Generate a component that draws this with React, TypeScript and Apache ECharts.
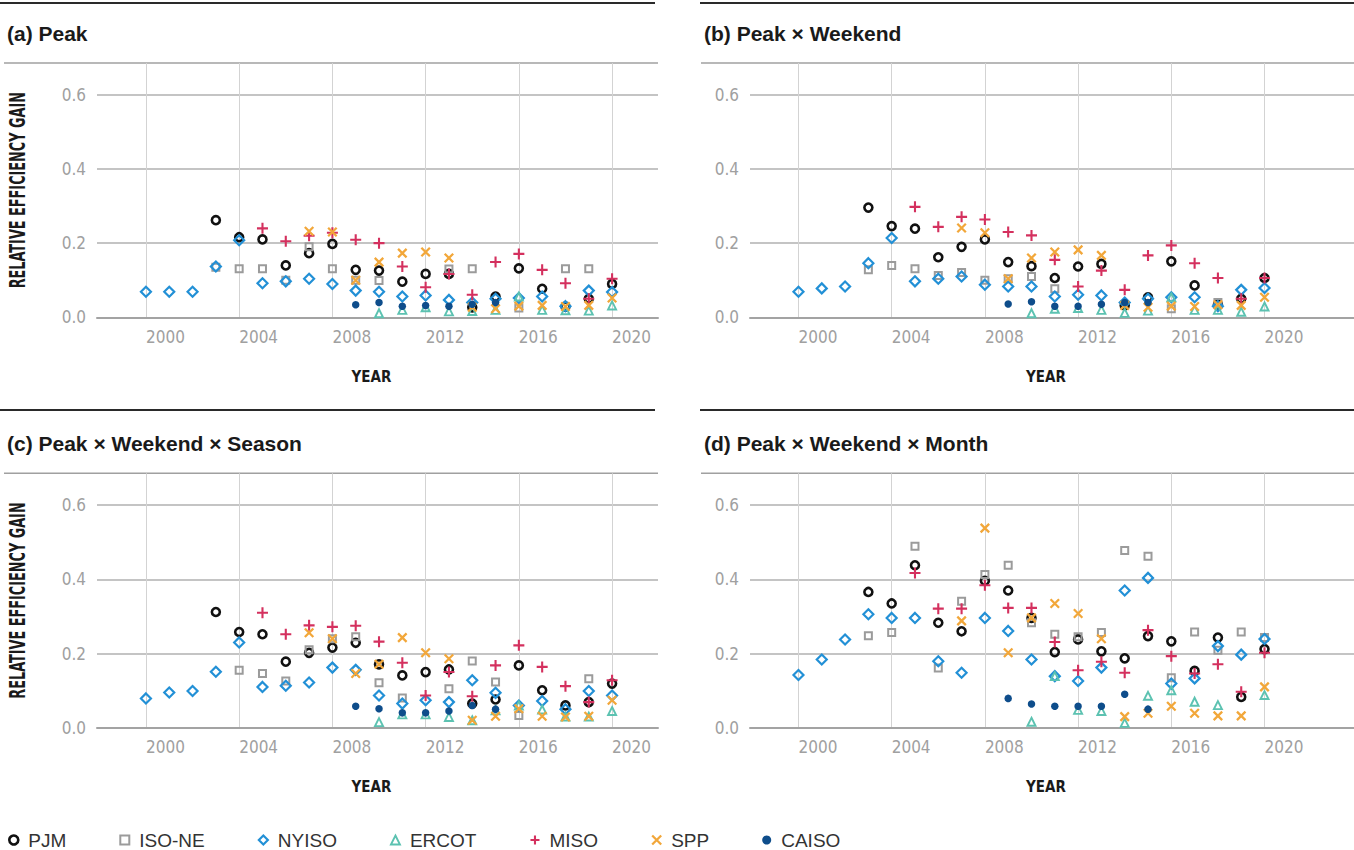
import React, { useEffect, useRef } from 'react';
import * as echarts from 'echarts';

const n = null;
const YEARS = [2000, 2001, 2002, 2003, 2004, 2005, 2006, 2007, 2008, 2009, 2010, 2011, 2012, 2013, 2014, 2015, 2016, 2017, 2018, 2019, 2020];
const X_TICKS = [2000, 2004, 2008, 2012, 2016, 2020];
const Y_TICKS = [0, 0.2, 0.4, 0.6];
const SERIES_NAMES = ['PJM', 'ISO-NE', 'NYISO', 'ERCOT', 'MISO', 'SPP', 'CAISO'];
const TITLES = ['(a) Peak', '(b) Peak \u00d7 Weekend', '(c) Peak \u00d7 Weekend \u00d7 Season', '(d) Peak \u00d7 Weekend \u00d7 Month'];
const X_NAME = 'YEAR';
const Y_NAME = 'RELATIVE EFFICIENCY GAIN';

// (a) Peak
const PJM_A = [n, n, n, 0.262, 0.216, 0.21, 0.14, 0.173, 0.198, 0.128, 0.126, 0.096, 0.117, 0.117, 0.027, 0.056, 0.132, 0.077, 0.029, 0.05, 0.09];
const ISONE_A = [n, n, n, 0.135, 0.131, 0.131, 0.1, 0.19, 0.131, 0.1, 0.099, n, n, 0.13, 0.131, n, 0.025, n, 0.131, 0.131, n];
const NYISO_A = [0.069, 0.069, 0.069, 0.137, 0.208, 0.092, 0.097, 0.104, 0.09, 0.072, 0.069, 0.056, 0.059, 0.047, 0.04, 0.05, 0.052, 0.056, 0.03, 0.072, 0.068];
const ERCOT_A = [n, n, n, n, n, n, n, n, n, n, 0.011, 0.02, 0.027, 0.016, 0.017, 0.02, 0.056, 0.02, 0.019, 0.018, 0.032];
const MISO_A = [n, n, n, n, n, 0.24, 0.205, 0.22, 0.228, 0.209, 0.2, 0.137, 0.081, 0.117, 0.061, 0.149, 0.171, 0.128, 0.092, 0.05, 0.104];
const SPP_A = [n, n, n, n, n, n, n, 0.232, 0.23, 0.1, 0.149, 0.173, 0.176, 0.16, 0.027, 0.023, 0.03, 0.032, 0.029, 0.032, 0.052];
const CAISO_A = [n, n, n, n, n, n, n, n, n, 0.034, 0.04, 0.03, 0.032, 0.03, 0.035, 0.04, n, n, n, n, n];

// (b) Peak x Weekend
const PJM_B = [n, n, n, 0.296, 0.246, 0.239, 0.162, 0.19, 0.21, 0.149, 0.138, 0.106, 0.137, 0.144, 0.032, 0.054, 0.151, 0.086, 0.034, 0.05, 0.106];
const ISONE_B = [n, n, n, 0.128, 0.14, 0.131, 0.113, 0.121, 0.1, 0.104, 0.11, 0.077, n, n, n, n, 0.023, n, 0.04, n, n];
const NYISO_B = [0.069, 0.078, 0.083, 0.146, 0.214, 0.097, 0.104, 0.11, 0.088, 0.083, 0.083, 0.056, 0.061, 0.059, 0.04, 0.05, 0.054, 0.054, 0.03, 0.074, 0.079];
const ERCOT_B = [n, n, n, n, n, n, n, n, n, n, 0.011, 0.023, 0.025, 0.02, 0.012, 0.018, 0.054, 0.02, 0.02, 0.015, 0.029];
const MISO_B = [n, n, n, n, n, 0.298, 0.244, 0.271, 0.264, 0.23, 0.221, 0.155, 0.083, 0.126, 0.074, 0.167, 0.194, 0.146, 0.106, 0.05, 0.106];
const SPP_B = [n, n, n, n, n, n, n, 0.241, 0.228, 0.104, 0.16, 0.176, 0.182, 0.167, 0.032, 0.027, 0.03, 0.029, 0.034, 0.032, 0.054];
const CAISO_B = [n, n, n, n, n, n, n, n, n, 0.036, 0.042, 0.03, 0.03, 0.035, 0.04, 0.04, n, n, n, n, n];

// (c) Peak x Weekend x Season
const PJM_C = [n, n, n, 0.312, 0.258, 0.252, 0.178, 0.202, 0.216, 0.229, 0.171, 0.141, 0.15, 0.157, 0.065, 0.076, 0.168, 0.101, 0.06, 0.069, 0.119];
const ISONE_C = [n, n, n, n, 0.155, 0.146, 0.126, 0.21, 0.24, 0.245, 0.121, 0.08, n, 0.105, 0.18, 0.123, 0.033, n, n, 0.132, n];
const NYISO_C = [0.079, 0.095, 0.099, 0.151, 0.23, 0.11, 0.113, 0.122, 0.162, 0.156, 0.087, 0.065, 0.074, 0.069, 0.128, 0.094, 0.06, 0.072, 0.05, 0.099, 0.087];
const ERCOT_C = [n, n, n, n, n, n, n, n, n, n, 0.015, 0.036, 0.036, 0.029, 0.02, 0.047, 0.06, 0.049, 0.03, 0.03, 0.045];
const MISO_C = [n, n, n, n, n, 0.31, 0.252, 0.276, 0.272, 0.275, 0.232, 0.175, 0.087, 0.15, 0.085, 0.168, 0.222, 0.164, 0.112, 0.069, 0.128];
const SPP_C = [n, n, n, n, n, n, n, 0.256, 0.24, 0.146, 0.171, 0.243, 0.202, 0.186, 0.02, 0.031, 0.051, 0.031, 0.029, 0.031, 0.074];
const CAISO_C = [n, n, n, n, n, n, n, n, n, 0.058, 0.051, 0.04, 0.04, 0.045, 0.06, 0.05, n, n, n, n, n];

// (d) Peak x Weekend x Month
const PJM_D = [n, n, n, 0.366, 0.335, 0.438, 0.283, 0.26, 0.396, 0.37, 0.296, 0.204, 0.238, 0.206, 0.187, 0.247, 0.233, 0.153, 0.243, 0.083, 0.212];
const ISONE_D = [n, n, n, 0.248, 0.257, 0.489, 0.161, 0.341, 0.413, 0.438, 0.283, 0.252, 0.245, 0.257, 0.478, 0.462, 0.135, 0.258, 0.209, 0.258, 0.243];
const NYISO_D = [0.142, 0.184, 0.238, 0.306, 0.296, 0.296, 0.179, 0.148, 0.296, 0.261, 0.184, 0.139, 0.126, 0.162, 0.37, 0.404, 0.119, 0.133, 0.22, 0.197, 0.239];
const ERCOT_D = [n, n, n, n, n, n, n, n, n, n, 0.016, 0.139, 0.048, 0.045, 0.013, 0.086, 0.101, 0.07, 0.061, n, 0.088];
const MISO_D = [n, n, n, n, n, 0.417, 0.321, 0.321, 0.384, 0.323, 0.323, 0.231, 0.155, 0.178, 0.148, 0.263, 0.193, 0.146, 0.171, 0.097, 0.202];
const SPP_D = [n, n, n, n, n, n, n, 0.288, 0.538, 0.202, 0.296, 0.335, 0.308, 0.24, 0.03, 0.039, 0.058, 0.039, 0.032, 0.032, 0.11];
const CAISO_D = [n, n, n, n, n, n, n, n, n, 0.079, 0.064, 0.058, 0.058, 0.058, 0.09, 0.05, n, n, n, n, n];

const PANEL_DATA = [
  [PJM_A, ISONE_A, NYISO_A, ERCOT_A, MISO_A, SPP_A, CAISO_A],
  [PJM_B, ISONE_B, NYISO_B, ERCOT_B, MISO_B, SPP_B, CAISO_B],
  [PJM_C, ISONE_C, NYISO_C, ERCOT_C, MISO_C, SPP_C, CAISO_C],
  [PJM_D, ISONE_D, NYISO_D, ERCOT_D, MISO_D, SPP_D, CAISO_D],
];

const PLUS = 'path://M5,0L5,10M0,5L10,5';
const CROSS = 'path://M0,0L10,10M10,0L0,10';

const MARKERS: any = {
  PJM: { symbol: 'circle', size: 8, color: '#111111', width: 2.6, filled: false },
  'ISO-NE': { symbol: 'rect', size: 7, color: '#9b9b9b', width: 2, filled: false },
  NYISO: { symbol: 'diamond', size: 10, color: '#2290d6', width: 2.2, filled: false },
  ERCOT: { symbol: 'triangle', size: 8, color: '#5cc2b1', width: 1.9, filled: false },
  MISO: { symbol: PLUS, size: 11, color: '#d4305e', width: 2.1, filled: false },
  SPP: { symbol: CROSS, size: 8.5, color: '#f2a73a', width: 2.3, filled: false },
  CAISO: { symbol: 'circle', size: 7.5, color: '#0e4d8b', width: 0, filled: true },
};

const LAYOUT = [
  { left: 97, top: 63, width: 561, height: 254.3, xMin: 1997.9, xMax: 2021.97, hx1: 0, hx2: 655, hy: 3, tx1: 4, tx2: 658, tx: 7, ty: 33, yName: true },
  { left: 750, top: 63, width: 604, height: 254.3, xMin: 1997.92, xMax: 2023.84, hx1: 700, hx2: 1354, hy: 3, tx1: 701, tx2: 1354, tx: 704, ty: 33, yName: false },
  { left: 97, top: 473.3, width: 561, height: 254.4, xMin: 1997.9, xMax: 2021.97, hx1: 0, hx2: 655, hy: 410, tx1: 4, tx2: 658, tx: 7, ty: 443, yName: true },
  { left: 750, top: 473.3, width: 604, height: 254.4, xMin: 1997.92, xMax: 2023.84, hx1: 700, hx2: 1354, hy: 410, tx1: 701, tx2: 1354, tx: 704, ty: 443, yName: false },
];
const Y_MAX = 0.686;

const COND = "'DejaVu Sans Condensed','Liberation Sans Narrow',sans-serif";
const SANS = "'Liberation Sans',Arial,Helvetica,sans-serif";

function toPoints(vals: (number | null)[]) {
  const out: number[][] = [];
  YEARS.forEach((y, i) => {
    const v = vals[i];
    if (v !== null && v !== undefined) out.push([y, v]);
  });
  return out;
}

function itemStyleFor(name: string) {
  const m = MARKERS[name];
  return m.filled
    ? { color: m.color, borderWidth: 0, opacity: 1 }
    : { color: 'rgba(0,0,0,0)', borderColor: m.color, borderWidth: m.width, opacity: 1 };
}

function buildOption() {
  const grid: any[] = [];
  const xAxis: any[] = [];
  const yAxis: any[] = [];
  const series: any[] = [];
  const graphic: any[] = [];

  LAYOUT.forEach((L, i) => {
    grid.push({ left: L.left, top: L.top, width: L.width, height: L.height, containLabel: false });
    xAxis.push({
      type: 'value',
      gridIndex: i,
      min: L.xMin,
      max: L.xMax,
      name: X_NAME,
      nameLocation: 'middle',
      nameGap: 52,
      nameTextStyle: { fontFamily: COND, fontWeight: 'bold', fontSize: 15, color: '#1a1a1a', padding: [0, 12, 0, 0] },
      axisLine: { show: true, onZero: false, lineStyle: { color: '#a3a3a3', width: 2 } },
      axisTick: { show: false, customValues: X_TICKS },
      axisLabel: {
        customValues: X_TICKS,
        align: 'left',
        margin: 11,
        fontFamily: COND,
        fontSize: 17,
        color: '#a0a0a0',
        formatter: (v: number) => String(Math.round(v)),
      },
      splitLine: { show: true, lineStyle: { color: '#d3d3d3', width: 1 } },
    });
    yAxis.push({
      type: 'value',
      gridIndex: i,
      min: 0,
      max: Y_MAX,
      axisLine: { show: false },
      axisTick: { show: false, customValues: Y_TICKS },
      axisLabel: {
        customValues: Y_TICKS,
        margin: 11,
        fontFamily: COND,
        fontSize: 17,
        color: '#a0a0a0',
        verticalAlign: 'middle',
        padding: [0, 0, 12, 0],
        formatter: (v: number) => v.toFixed(1),
      },
      splitLine: { show: true, lineStyle: { color: '#b0b0b0', width: 1.6 } },
    });

    SERIES_NAMES.forEach((name, k) => {
      const m = MARKERS[name];
      series.push({
        type: 'scatter',
        name,
        xAxisIndex: i,
        yAxisIndex: i,
        data: toPoints(PANEL_DATA[i][k]),
        symbol: m.symbol,
        symbolSize: m.size,
        itemStyle: itemStyleFor(name),
        z: 2 + k,
        silent: true,
        emphasis: { disabled: true },
      });
    });

    graphic.push({
      type: 'line',
      shape: { x1: L.hx1, y1: L.hy, x2: L.hx2, y2: L.hy },
      style: { stroke: '#2a2a2a', lineWidth: 2 },
      silent: true,
    });
    graphic.push({
      type: 'line',
      shape: { x1: L.tx1, y1: L.top, x2: L.tx2, y2: L.top },
      style: { stroke: '#a0a0a0', lineWidth: 1.5 },
      silent: true,
    });
    graphic.push({
      type: 'text',
      x: L.tx,
      y: L.ty,
      style: {
        text: TITLES[i],
        fill: '#1a1a1a',
        font: `bold 21px ${SANS}`,
        verticalAlign: 'middle',
        align: 'left',
      },
      silent: true,
    });
    if (L.yName) {
      graphic.push({
        type: 'text',
        x: 17,
        y: L.top + L.height / 2,
        rotation: Math.PI / 2,
        scaleX: 0.68,
        style: {
          text: Y_NAME,
          fill: '#1a1a1a',
          font: `bold 21px ${COND}`,
          align: 'center',
          verticalAlign: 'middle',
        },
        silent: true,
      });
    }
  });

  const legendData = SERIES_NAMES.map((name) => {
    const m = MARKERS[name];
    return { name, icon: m.symbol, itemStyle: itemStyleFor(name) };
  });

  return {
    animation: false,
    backgroundColor: '#ffffff',
    grid,
    xAxis,
    yAxis,
    series,
    graphic,
    legend: {
      left: 8,
      top: 830,
      padding: 0,
      itemGap: 53,
      itemWidth: 9,
      itemHeight: 9,
      selectedMode: false,
      textStyle: { fontFamily: SANS, fontSize: 19, lineHeight: 20, color: '#333333', padding: [0, 0, 0, 5] },
      data: legendData,
    },
  };
}

export default function App() {
  const ref = useRef<HTMLDivElement>(null);
  useEffect(() => {
    if (!ref.current) return;
    const chart = echarts.init(ref.current, undefined, { renderer: 'svg' });
    chart.setOption(buildOption() as any);
    return () => chart.dispose();
  }, []);
  return (
    <div
      ref={ref}
      style={{ position: 'fixed', left: 0, top: 0, width: 1354, height: 850, background: '#fff' }}
    />
  );
}
